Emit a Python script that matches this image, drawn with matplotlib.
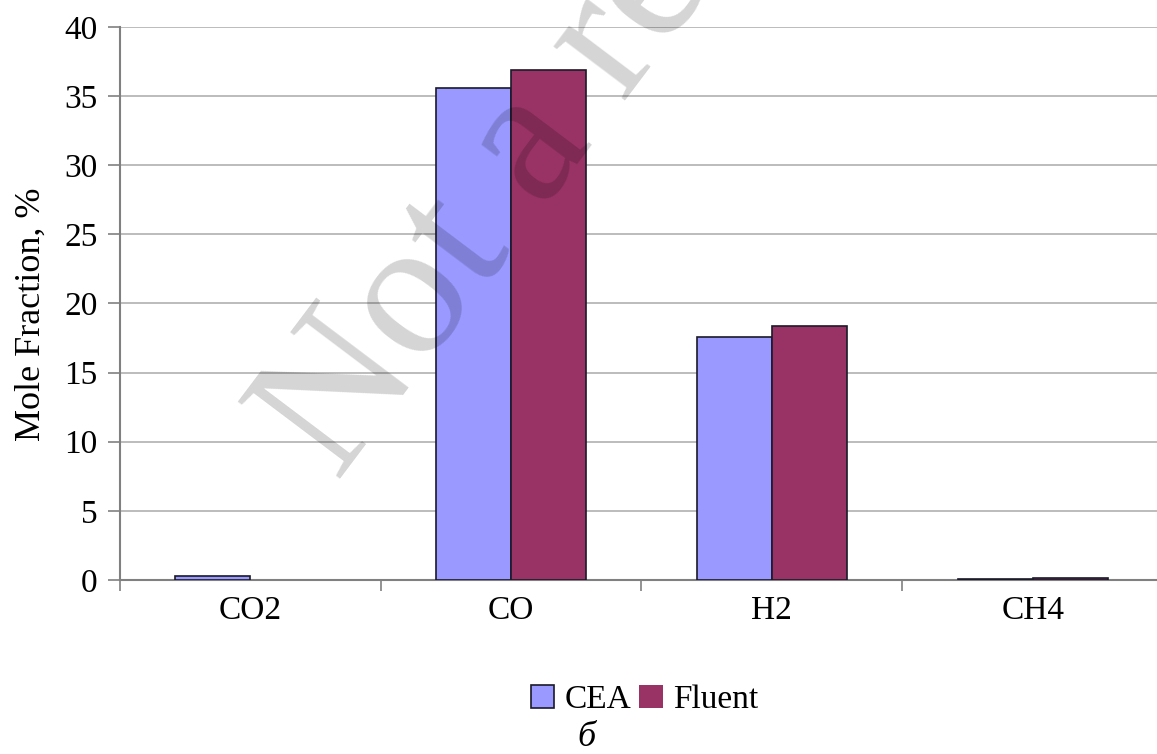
import matplotlib.pyplot as plt
import numpy as np

plt.rcParams['font.family'] = ['Liberation Serif', 'DejaVu Serif']

species = ["CO2", "CO", "H2", "CH4"]
cea = [0.3, 35.6, 17.6, 0.08]
fluent = [0.0, 36.9, 18.4, 0.15]
series_names = ["CEA", "Fluent"]
colors = ["#9999FF", "#993366"]
yticks = [0, 5, 10, 15, 20, 25, 30, 35, 40]


def draw():
  fig = plt.figure(figsize=(11.57, 7.54), dpi=100)
  ax = fig.add_axes([0.1037, 0.2308, 0.9015, 0.7334])

  x = np.arange(len(species))
  w = 0.288
  for vals, off, c, name in zip([cea, fluent], [-w / 2, w / 2], colors, series_names):
    lws = [1.2 if v > 0 else 0 for v in vals]
    ax.bar(x + off, vals, w, color=c, edgecolor="#1a1a2a", linewidth=lws, label=name, zorder=3)

  ax.set_xlim(-0.5, 3.5)
  ax.set_ylim(0, 40)
  ax.set_yticks(yticks)
  ax.set_yticklabels([str(t) for t in yticks], fontsize=24)
  ax.set_xticks(x)
  ax.set_xticklabels(species, fontsize=24)
  # category separators as minor ticks
  ax.set_xticks(np.arange(-0.5, 4.0, 1.0), minor=True)
  ax.tick_params(axis="x", which="major", length=0, pad=11)
  ax.tick_params(axis="x", which="minor", length=8, color="#808080", width=1.2)
  ax.tick_params(axis="y", length=9, color="#808080", width=1.2, pad=7)

  ax.grid(axis="y", color="#b0b0b0", linewidth=1.2, zorder=0)
  for s in ["top", "right"]:
    ax.spines[s].set_visible(False)
  for s in ["left", "bottom"]:
    ax.spines[s].set_color("#808080")
    ax.spines[s].set_linewidth(1.5)

  ax.set_ylabel("Mole Fraction, %", fontsize=26)
  ax.yaxis.set_label_coords(-0.069, 0.48)

  handles, labels = ax.get_legend_handles_labels()
  fig.legend(handles, labels, loc="center", bbox_to_anchor=(0.557, 0.072), ncol=2,
             frameon=False, fontsize=24, handlelength=0.7, handleheight=0.7,
             handletextpad=0.3, columnspacing=0.25, borderpad=0)
  fig.text(0.507, 0.022, "б", fontsize=26, style="italic", ha="center", va="center")

  # watermark
  fig.text(0.292, 0.360, "Not a re", fontsize=140, rotation=53, rotation_mode="anchor",
           ha="left", va="baseline", color="black", alpha=0.17, zorder=10)

  plt.savefig("out.png", dpi=100)
  plt.clf()


if __name__ == "__main__":
  draw()
